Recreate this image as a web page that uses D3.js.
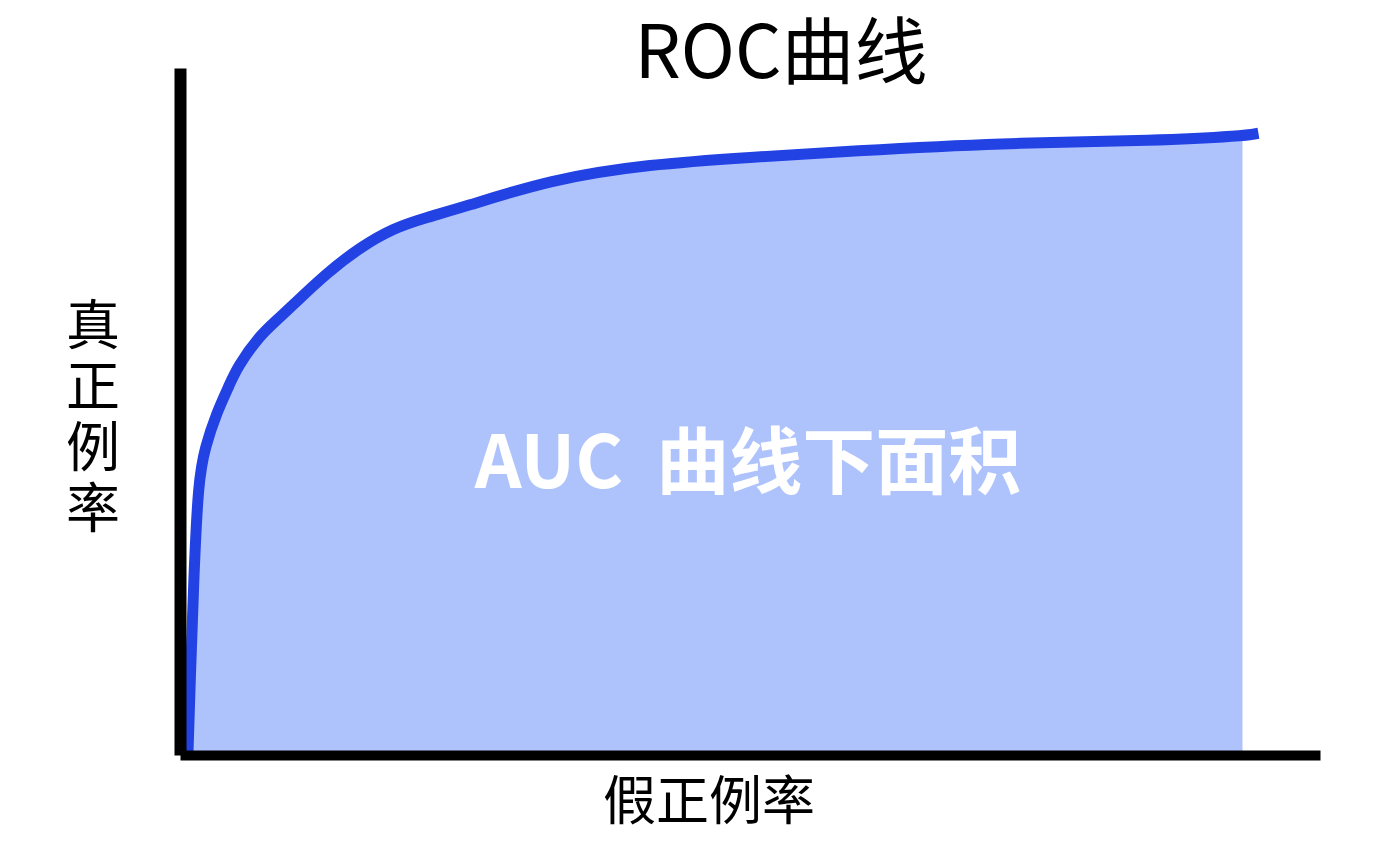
<!DOCTYPE html>
<html>
<head>
<meta charset="utf-8">
<script src="https://cdn.jsdelivr.net/npm/d3@7"></script>
<style>
  html, body { margin: 0; padding: 0; background: #ffffff; }
  svg { display: block; }
  text { font-family: "Noto Sans CJK SC", "Noto Sans", sans-serif; }
</style>
</head>
<body>
<svg id="chart" width="1377" height="850"></svg>
<script>
// ---- data ----
const titleText = "ROC曲线";
const xLabel = "假正例率";
const yLabel = "真正例率";
const areaLabel = "AUC  曲线下面积";
// false positive rate (x) and true positive rate (y) along the ROC curve
const fpr = [0.007, 0.009, 0.012, 0.016, 0.022, 0.032, 0.044, 0.050, 0.070, 0.085, 0.099, 0.129, 0.158, 0.187, 0.217, 0.246, 0.325, 0.412, 0.500, 0.588, 0.719, 0.860, 0.932, 0.946];
const tpr = [0.004, 0.109, 0.255, 0.400, 0.448, 0.498, 0.541, 0.564, 0.611, 0.633, 0.655, 0.702, 0.739, 0.767, 0.783, 0.796, 0.838, 0.860, 0.870, 0.879, 0.891, 0.894, 0.901, 0.905];
const areaEnd = 0.932; // shaded area stops here

const points = fpr.map((f, i) => ({ f, t: tpr[i] }));
const areaPoints = points.filter(p => p.f <= areaEnd);

const svg = d3.select("#chart");
const x = d3.scaleLinear().domain([0, 1]).range([180, 1320]);
const y = d3.scaleLinear().domain([0, 1]).range([755, 68]);
const curve = d3.curveBasis;

// shaded area under the curve
const area = d3.area()
  .x(d => x(d.f))
  .y0(y(0.006))
  .y1(d => y(d.t))
  .curve(curve);
svg.append("path")
  .datum(areaPoints)
  .attr("d", area)
  .attr("fill", "#aec3fc");

// ROC curve line
const line = d3.line()
  .x(d => x(d.f))
  .y(d => y(d.t))
  .curve(curve);
svg.append("path")
  .datum(points)
  .attr("d", line)
  .attr("fill", "none")
  .attr("stroke", "#2342e4")
  .attr("stroke-width", 11)
  .attr("stroke-linejoin", "round");

// axes (no ticks, thick black domain lines)
const xAxis = svg.append("g")
  .attr("transform", `translate(0,${y(0)})`)
  .call(d3.axisBottom(x).tickValues([]).tickSizeOuter(0));
xAxis.select(".domain").attr("stroke", "#000").attr("stroke-width", 10);

const yAxis = svg.append("g")
  .attr("transform", `translate(${x(0)},0)`)
  .call(d3.axisLeft(y).tickValues([]).tickSizeOuter(0));
yAxis.select(".domain").attr("stroke", "#000").attr("stroke-width", 12);

// title
svg.append("text")
  .attr("x", 781)
  .attr("y", 78)
  .attr("text-anchor", "middle")
  .attr("font-size", 73)
  .attr("fill", "#000")
  .text(titleText);

// AUC label
svg.append("text")
  .attr("x", 748)
  .attr("y", 488)
  .attr("text-anchor", "middle")
  .attr("font-size", 73)
  .attr("font-weight", "bold")
  .attr("fill", "#ffffff")
  .attr("xml:space", "preserve")
  .style("white-space", "pre")
  .text(areaLabel);

// x axis label
svg.append("text")
  .attr("x", 709)
  .attr("y", 797)
  .attr("text-anchor", "middle")
  .attr("dominant-baseline", "central")
  .attr("font-size", 53)
  .attr("fill", "#000")
  .text(xLabel);

// y axis label (vertical, upright characters)
svg.append("text")
  .attr("x", 93)
  .attr("y", 419)
  .attr("text-anchor", "middle")
  .attr("font-size", 54)
  .attr("fill", "#000")
  .style("writing-mode", "vertical-rl")
  .style("text-orientation", "upright")
  .style("letter-spacing", "7px")
  .text(yLabel);
</script>
</body>
</html>
